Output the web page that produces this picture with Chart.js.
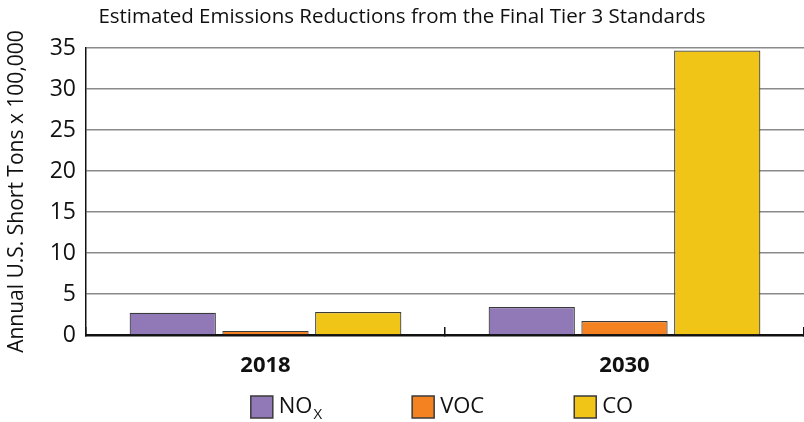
<!DOCTYPE html>
<html>
<head>
<meta charset="utf-8">
<script src="https://cdn.jsdelivr.net/npm/chart.js@4"></script>
<style>
  html, body { margin: 0; padding: 0; background: #fff; }
  #wrap { width: 804px; height: 422px; }
</style>
</head>
<body>
<div id="wrap"><canvas id="chart" width="804" height="422"></canvas></div>
<script>
// dados
const years = ['2018', '2030'];
const noxValues = [2.7, 3.4];
const vocValues = [0.5, 1.7];
const coValues = [2.8, 34.7];
const yTicks = [0, 5, 10, 15, 20, 25, 30, 35];

const purple = '#9079b6';
const orange = '#f58220';
const yellow = '#f1c418';
const edge = '#3a3a3a';
const fontFamily = '"Open Sans", "DejaVu Sans", sans-serif';

// legenda própria (para o subscrito do NOx)
const legendPlugin = {
  id: 'customLegend',
  afterDraw(chart) {
    const ctx = chart.ctx;
    const area = chart.chartArea;
    const box = 22, gapText = 6, gapItem = 90;
    const y = 407;
    ctx.save();
    ctx.textBaseline = 'middle';
    const items = chart.data.datasets.map(ds => {
      ctx.font = '22px ' + fontFamily;
      let w = ctx.measureText(ds.label).width;
      if (ds.sub) {
        ctx.font = '15px ' + fontFamily;
        w += ctx.measureText(ds.sub).width + 1;
      }
      return { ds, w: box + gapText + w };
    });
    const total = items.reduce((s, it) => s + it.w, 0) + gapItem * (items.length - 1);
    let x = (area.left + area.right) / 2 - total / 2 - 3;
    items.forEach(it => {
      ctx.fillStyle = it.ds.backgroundColor;
      ctx.fillRect(x, y - box / 2, box, box);
      ctx.strokeStyle = edge;
      ctx.lineWidth = 1.5;
      ctx.strokeRect(x, y - box / 2, box, box);
      ctx.fillStyle = '#111';
      ctx.font = '22px ' + fontFamily;
      const tx = x + box + gapText;
      ctx.fillText(it.ds.label, tx, y);
      if (it.ds.sub) {
        const lw = ctx.measureText(it.ds.label).width;
        ctx.font = '15px ' + fontFamily;
        ctx.fillText(it.ds.sub, tx + lw + 1, y + 8);
      }
      x += it.w + gapItem;
    });
    ctx.restore();
  }
};

const ctx = document.getElementById('chart').getContext('2d');
new Chart(ctx, {
  type: 'bar',
  data: {
    labels: years,
    datasets: [
      { label: 'NO', sub: 'X', data: noxValues, backgroundColor: purple },
      { label: 'VOC', data: vocValues, backgroundColor: orange },
      { label: 'CO', data: coValues, backgroundColor: yellow }
    ].map(d => Object.assign(d, { borderColor: edge, borderWidth: 1.2, borderSkipped: 'bottom' }))
  },
  options: {
    responsive: false,
    animation: false,
    categoryPercentage: 0.775,
    barPercentage: 0.93,
    layout: { padding: { top: 0, right: 0, bottom: 37, left: 0 } },
    plugins: {
      legend: { display: false },
      tooltip: { enabled: false },
      title: {
        display: true,
        text: 'Estimated Emissions Reductions from the Final Tier 3 Standards',
        color: '#111',
        font: { family: fontFamily, size: 20.5, weight: 'normal' },
        padding: { top: 5, bottom: 18.4 }
      }
    },
    scales: {
      x: {
        grid: { offset: true, drawOnChartArea: false, drawTicks: true, tickLength: -8, color: '#111', lineWidth: 1.5 },
        border: { color: '#111', width: 2.5 },
        ticks: { color: '#111', padding: 26, font: { family: fontFamily, size: 22, weight: 'bold' } },
        afterFit(scale) { scale.height = 50; }
      },
      y: {
        min: 0,
        max: 35,
        afterBuildTicks(scale) { scale.ticks = yTicks.map(v => ({ value: v })); },
        grid: { color: '#8a8a8a', lineWidth: 1.5, drawTicks: false },
        border: { color: '#111', width: 1.5 },
        ticks: { color: '#111', padding: 10, font: { family: fontFamily, size: 23 } },
        title: {
          display: true,
          text: 'Annual U.S. Short Tons x 100,000',
          color: '#111',
          font: { family: fontFamily, size: 21 },
          padding: { top: 4, bottom: 0 }
        },
        afterFit(scale) { scale.width = 86; }
      }
    }
  },
  plugins: [legendPlugin]
});
</script>
</body>
</html>
